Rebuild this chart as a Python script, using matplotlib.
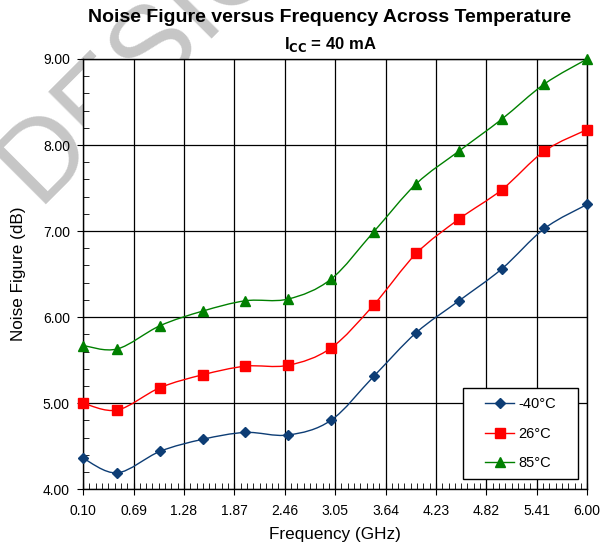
import matplotlib.pyplot as plt
from matplotlib.path import Path
from matplotlib.patches import PathPatch, Rectangle
from matplotlib.ticker import MultipleLocator, AutoMinorLocator

plt.rcParams['font.family'] = ['Liberation Sans', 'DejaVu Sans']

freq = [0.1, 0.5, 1.0, 1.5, 2.0, 2.5, 3.0, 3.5, 4.0, 4.5, 5.0, 5.5, 6.0]
nf_m40 = [4.36, 4.19, 4.44, 4.58, 4.66, 4.63, 4.80, 5.31, 5.82, 6.19, 6.56, 7.03, 7.31]
nf_26 = [5.00, 4.92, 5.18, 5.33, 5.43, 5.44, 5.64, 6.14, 6.74, 7.14, 7.48, 7.93, 8.18]
nf_85 = [5.67, 5.63, 5.90, 6.07, 6.19, 6.21, 6.44, 6.99, 7.55, 7.93, 8.30, 8.71, 9.00]
labels = ['-40°C', '26°C', '85°C']
xticks = [0.10, 0.69, 1.28, 1.87, 2.46, 3.05, 3.64, 4.23, 4.82, 5.41, 6.00]


def smooth_path(x, y):
    # excel style smoothed line: bezier through every point
    pts = list(zip(x, y))
    n = len(pts)
    verts = [pts[0]]
    codes = [Path.MOVETO]
    for i in range(n - 1):
        p0 = pts[max(i - 1, 0)]
        p1 = pts[i]
        p2 = pts[i + 1]
        p3 = pts[min(i + 2, n - 1)]
        c1 = (p1[0] + (p2[0] - p0[0]) / 6, p1[1] + (p2[1] - p0[1]) / 6)
        c2 = (p2[0] - (p3[0] - p1[0]) / 6, p2[1] - (p3[1] - p1[1]) / 6)
        verts += [c1, c2, p2]
        codes += [Path.CURVE4] * 3
    return Path(verts, codes)


fig = plt.figure(figsize=(6.11, 5.46), dpi=100)
ax = fig.add_axes([0.136, 0.104, 0.825, 0.788])
ax.set_facecolor('white')

# watermark behind the plot area
fig.text(37 / 611, 1 - 204 / 546, 'DESIGN', fontsize=82, color='#c6c6c6',
         rotation=45, rotation_mode='anchor', ha='left', va='baseline', zorder=-5)

series = [(nf_m40, '#0d3d75', 'D', 5.5), (nf_26, '#ff0000', 's', 7), (nf_85, '#008000', '^', 7)]
for (vals, col, mk, ms), lab in zip(series, labels):
    ax.add_patch(PathPatch(smooth_path(freq, vals), fill=False, edgecolor=col, lw=1, zorder=3))
    ax.plot(freq, vals, ls='none', marker=mk, ms=ms, color=col, clip_on=False, zorder=4)
    ax.plot([], [], color=col, marker=mk, ms=ms, lw=1, label=lab)

ax.set_xlim(0.10, 6.00)
ax.set_ylim(4, 9)
ax.set_xticks(xticks)
ax.set_xticklabels(['%.2f' % t for t in xticks])
ax.xaxis.set_minor_locator(AutoMinorLocator(8))
ax.yaxis.set_major_locator(MultipleLocator(1))
ax.yaxis.set_minor_locator(MultipleLocator(0.2))
ax.set_yticklabels(['%.2f' % t for t in ax.get_yticks()])
ax.tick_params(which='major', direction='out', length=4, labelsize=10, color='black')
ax.tick_params(axis='y', which='major', pad=5.5)
ax.tick_params(axis='x', which='major', direction='inout', length=8, pad=7)
ax.tick_params(which='minor', direction='in', length=4)
ax.grid(True, which='major', color='black', lw=0.9)
for s in ax.spines.values():
    s.set_color('black')
    s.set_linewidth(1)

ax.set_xlabel('Frequency (GHz)', fontsize=12.3, labelpad=6)
ax.set_ylabel('Noise Figure (dB)', fontsize=12.3, labelpad=12)

fig.text(0.54, 1 - 18 / 546, 'Noise Figure versus Frequency Across Temperature',
         fontsize=14, fontweight='bold', ha='center', va='center')
fig.text(0.54, 1 - 44 / 546, r'I$_{\mathbf{CC}}$ = 40 mA', fontsize=12,
         fontweight='bold', ha='center', va='center')

# legend box
ax.add_patch(Rectangle((0.754, 0.023), 0.228, 0.212, transform=ax.transAxes,
                       facecolor='white', edgecolor='black', lw=1, zorder=5))
leg = ax.legend(loc='center', bbox_to_anchor=(0.868, 0.129), frameon=False,
                fontsize=10.5, labelspacing=1.05, handlelength=2.0, handletextpad=0.3,
                borderpad=0, borderaxespad=0)
leg.set_zorder(6)

fig.savefig('out.png', dpi=100)
